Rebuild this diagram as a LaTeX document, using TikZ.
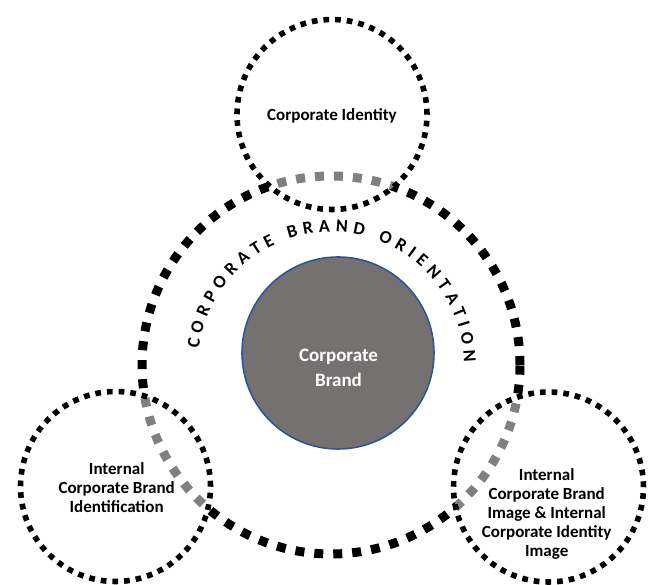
\documentclass[tikz,border=0pt]{standalone}
\usepackage{fontspec}
\setmainfont{Carlito}
\usetikzlibrary{decorations.text}
\definecolor{brandfill}{HTML}{767171}
\definecolor{brandedge}{HTML}{2F5597}
\tikzset{
  bigring/.style={circle, draw=black, line width=9pt, dash pattern=on 9pt off 10pt, inner sep=0pt},
  smallring/.style={circle, draw=black, line width=5.6pt, dash pattern=on 5.7pt off 6pt,
    fill=white, fill opacity=0.5, draw opacity=1, inner sep=0pt, minimum size=190pt},
  core/.style={circle, fill=brandfill, draw=brandedge, line width=1.6pt, inner sep=0pt, minimum size=192pt},
  ringlabel/.style={align=center, font=\fontsize{17}{19}\selectfont\bfseries, text opacity=1},
  corelabel/.style={align=center, font=\fontsize{19}{25}\selectfont\bfseries, text=white}
}
\begin{document}
\begin{tikzpicture}[x=1pt,y=1pt]
  \useasboundingbox (0,0) rectangle (654,585);
  % outer orientation ring
  \node[bigring, minimum size=378pt] (orient) at (331,220) {};
  % curved caption along the ring
  \coordinate (oc) at (331,220);
  \path[decorate, decoration={text along path, text align=fit to path,
      text={|\fontsize{18}{18}\selectfont\bfseries|CORPORATE BRAND ORIENTATION}}]
    (oc) ++(173:133) arc[start angle=173, end angle=1, radius=133];
  % three surrounding rings
  \node[smallring] (identity) at (332,470.5) {};
  \node[smallring] (identification) at (115.5,98.5) {};
  \node[smallring] (image) at (548.5,98) {};
  % central brand disc
  \node[core] (brand) at (338,232) {};
  % labels
  \node[corelabel] (brandtext) at (338.5,217) {Corporate\\Brand};
  \node[ringlabel] (identitytext) at (332,469.3) {Corporate Identity};
  \node[ringlabel] (identificationtext) at (116.7,97) {Internal\\Corporate Brand\\Identification};
  \node[ringlabel] (imagetext) at (546.7,71) {Internal\\Corporate Brand\\Image \& Internal\\Corporate Identity\\Image};
\end{tikzpicture}
\end{document}
